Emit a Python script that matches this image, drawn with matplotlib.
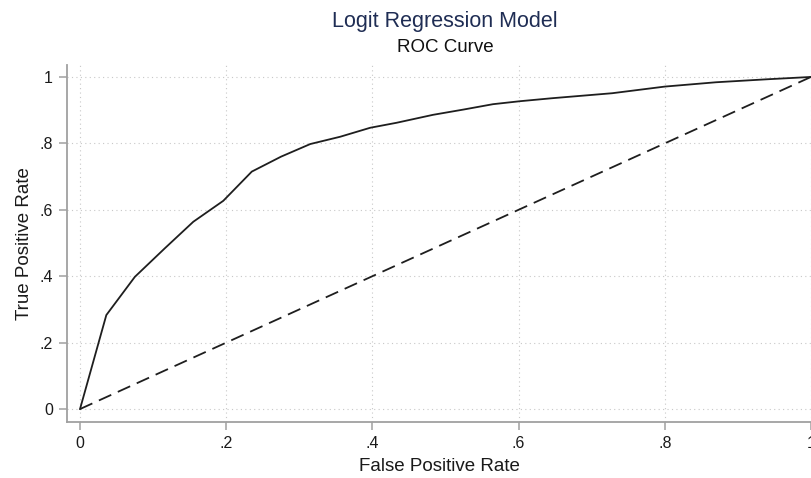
import matplotlib
matplotlib.use("Agg")
import matplotlib.pyplot as plt

plt.rcParams['font.family'] = ['Liberation Sans', 'DejaVu Sans']

# ROC curve
fpr = [0.0, 0.036, 0.075, 0.116, 0.155, 0.196, 0.235, 0.275, 0.315, 0.356,
       0.397, 0.433, 0.483, 0.525, 0.565, 0.602, 0.646, 0.728, 0.800, 0.870,
       0.940, 1.0]
tpr = [0.0, 0.283, 0.398, 0.484, 0.564, 0.627, 0.715, 0.760, 0.798, 0.820,
       0.847, 0.862, 0.886, 0.902, 0.918, 0.927, 0.936, 0.951, 0.971, 0.984,
       0.993, 1.0]
ref_x = [0.0, 1.0]
ref_y = [0.0, 1.0]

ticks = [0, 0.2, 0.4, 0.6, 0.8, 1.0]
tick_labels = ['0', '.2', '.4', '.6', '.8', '1']

W, H = 812, 478
fig = plt.figure(figsize=(W / 100, H / 100), dpi=100)
ax = fig.add_axes([67 / W, 1 - 422 / H, (W - 67) / W, (422 - 65) / H])

ax.plot(fpr, tpr, color='#1e1e1e', linewidth=1.3, solid_joinstyle='miter')
ax.plot(ref_x, ref_y, color='#1e1e1e', linewidth=1.3, linestyle=(0, (7.5, 4)))

ax.set_xlim(-0.0178, 1.0014)
ax.set_ylim(-0.039, 1.036)

ax.set_xticks(ticks)
ax.set_xticklabels(tick_labels)
ax.set_yticks(ticks)
ax.set_yticklabels(tick_labels)

ax.grid(True, linestyle=(0, (1, 3)), color='#c8c8c8', linewidth=0.8)

gray = '#a0a0a0'
for side in ['top', 'right']:
    ax.spines[side].set_visible(False)
for side in ['left', 'bottom']:
    ax.spines[side].set_color(gray)
    ax.spines[side].set_linewidth(1.3)

ax.tick_params(axis='both', colors=gray, length=6, width=1.1, pad=4,
               labelsize=11.5, labelcolor='#1a1a1a')

ax.set_xlabel('False Positive Rate', fontsize=13.5, color='#1a1a1a', labelpad=5)
ax.set_ylabel('True Positive Rate', fontsize=13.5, color='#1a1a1a', labelpad=5)

fig.text(445 / W, 1 - 22 / H, 'Logit Regression Model', fontsize=15.5,
         color='#1f2d54', ha='center', va='center')
fig.text(445 / W, 1 - 48 / H, 'ROC Curve', fontsize=13.5,
         color='#111111', ha='center', va='center')

fig.savefig('out.png', dpi=100)
